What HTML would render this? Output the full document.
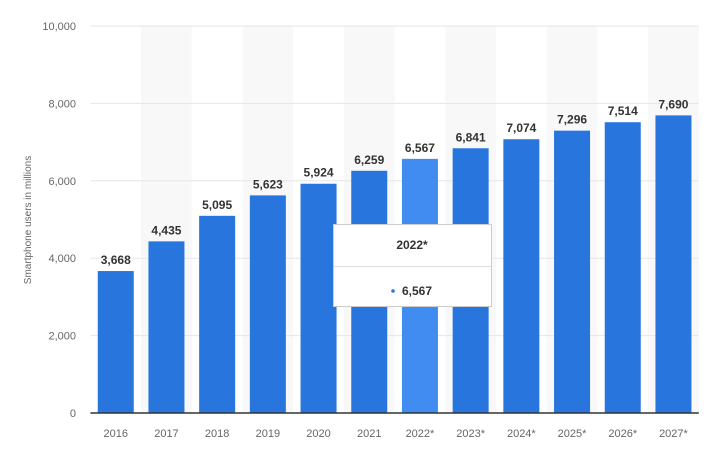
<!DOCTYPE html>
<html><head><meta charset="utf-8"><style>
body{margin:0;background:#fff;font-family:"Liberation Sans",sans-serif;}
svg text{font-family:"Liberation Sans",sans-serif;}
</style></head><body>
<svg width="712" height="455" id="chart">
<text transform="translate(31,220) rotate(-90)" text-anchor="middle" font-size="10" fill="#666">Smartphone users in millions</text>
</svg>
<script>
const categories=["2016","2017","2018","2019","2020","2021","2022*","2023*","2024*","2025*","2026*","2027*"];
const values=[3668,4435,5095,5623,5924,6259,6567,6841,7074,7296,7514,7690];
const yTicks=[0,2000,4000,6000,8000,10000];
const highlightIndex=6;
const svg=document.getElementById('chart');
const NS='http://www.w3.org/2000/svg';
const L=90.4,R=698.8,B=413,T=26,yMax=10000;
const band=(R-L)/categories.length;
const x=i=>L+i*band;
const y=v=>B-(v/yMax)*(B-T);
function mk(t,a,p){const e=document.createElementNS(NS,t);for(const k in a)e.setAttribute(k,a[k]);(p||svg).appendChild(e);return e;}
categories.forEach((c,i)=>{if(i%2===1){const r=mk('rect',{x:x(i),y:T,width:band,height:B-T,fill:'#f8f8f9'});

}});
yTicks.forEach(t=>{
const g=mk('line',{x1:L,x2:R,y1:y(t),y2:y(t),stroke:'#e6e6e6','stroke-width':1});


const tx=mk('text',{x:76,y:y(t)+4,'text-anchor':'end','font-size':11,fill:'#666'});
tx.textContent=t.toLocaleString('en-US');


});
values.forEach((v,i)=>{
const bw=36,cx=x(i)+band/2;
const r=mk('rect',{x:cx-bw/2,y:y(v),width:bw,height:B-y(v),fill:i===highlightIndex?'#418cf0':'#2876dd'});


const t=mk('text',{x:cx,y:y(v)-7,'text-anchor':'middle','font-size':12,'font-weight':'bold',fill:'#333'});
t.textContent=v.toLocaleString('en-US');


const xl=mk('text',{x:cx,y:437,'text-anchor':'middle','font-size':11,fill:'#666'});
xl.textContent=categories[i];


});
const ax=mk('line',{x1:L,x2:R,y1:B,y2:B,stroke:'#333','stroke-width':1.5});


// tooltip
const tg=mk('g',{});


mk('rect',{x:333.5,y:224.5,width:158,height:82,fill:'#fff',stroke:'#ccc'},tg);
mk('line',{x1:334,x2:491,y1:266.5,y2:266.5,stroke:'#ddd'},tg);
const tt=mk('text',{x:412,y:249,'text-anchor':'middle','font-size':12,'font-weight':'bold',fill:'#333'},tg);
tt.textContent=categories[highlightIndex];
mk('circle',{cx:393,cy:291,r:1.8,fill:'#2876dd'},tg);
const tv=mk('text',{x:402,y:295,'font-size':12,'font-weight':'bold',fill:'#333'},tg);
tv.textContent=values[highlightIndex].toLocaleString('en-US');
</script>
</body></html>
